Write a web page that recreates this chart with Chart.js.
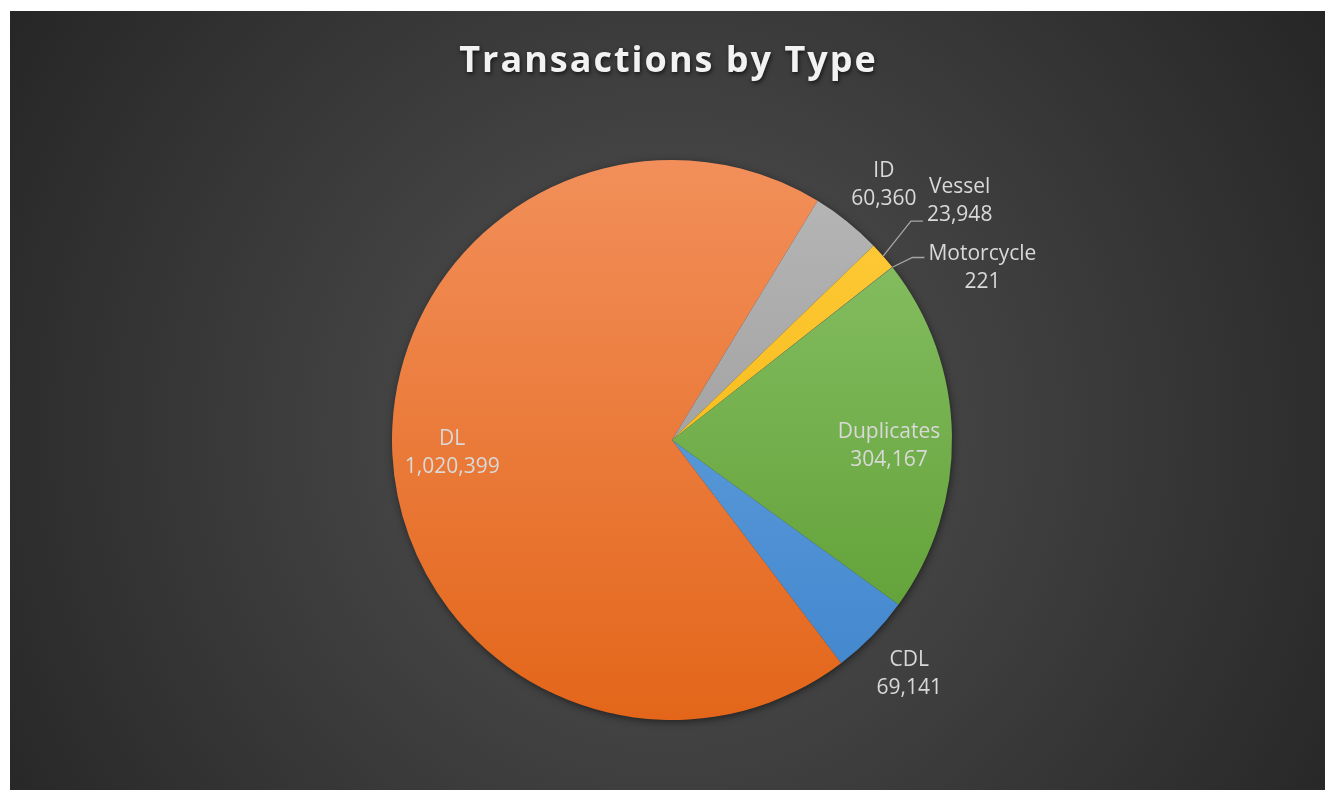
<!DOCTYPE html>
<html>
<head>
<meta charset="utf-8">
<script src="https://cdn.jsdelivr.net/npm/chart.js@4"></script>
<style>
  html, body { margin: 0; padding: 0; background: #fff; }
  #wrap {
    position: absolute; left: 10px; top: 11px; width: 1315px; height: 779px;
    background: radial-gradient(circle farthest-corner at 50% 54%, #535353 0%, #262626 100%);
  }
</style>
</head>
<body>
<div id="wrap"><canvas id="chart"></canvas></div>
<script>
var chartTitle = 'Transactions by Type';
var categories = ['CDL', 'DL', 'ID', 'Vessel', 'Motorcycle', 'Duplicates'];
var values = [69141, 1020399, 60360, 23948, 221, 304167];

// top / bottom gradient stops per slice
var sliceColors = [
  ['#6eaae2', '#3f84cc'],
  ['#f28f5a', '#e3661a'],
  ['#b7b7b7', '#909090'],
  ['#ffcc3e', '#f2b100'],
  ['#5a86d2', '#3763b4'],
  ['#8cc46a', '#5a9a2e']
];

// where each label sits: radius factor, angle nudge (deg), leader line
var labelLayout = [
  { r: 1.186, da: 0 },
  { r: 0.786, da: 0 },
  { r: 1.19, da: 0.8 },
  { r: 1.34, da: 1.1, leader: true, ly: 20 },
  { r: 1.27, da: 8.9, leader: true, ly: -11 },
  { r: 0.775, da: 2.2 }
];

function fmt(v) { return v.toLocaleString('en-US'); }

var piePlugin = {
  id: 'piePlugin',
  beforeDatasetsDraw: function(chart) {
    var el = chart.getDatasetMeta(0).data[0];
    var ctx = chart.ctx;
    ctx.save();
    ctx.shadowColor = 'rgba(0,0,0,0.6)';
    ctx.shadowBlur = 8;
    ctx.shadowOffsetX = 1;
    ctx.shadowOffsetY = 2;
    ctx.fillStyle = '#333';
    ctx.beginPath();
    ctx.arc(el.x, el.y, el.outerRadius - 1, 0, Math.PI * 2);
    ctx.fill();
    ctx.restore();
  },
  afterDatasetsDraw: function(chart) {
    var ctx = chart.ctx;
    var meta = chart.getDatasetMeta(0);
    ctx.save();
    ctx.font = '21px "Open Sans"';
    ctx.fillStyle = '#d9d9d9';
    ctx.textAlign = 'center';
    ctx.textBaseline = 'middle';
    meta.data.forEach(function(el, i) {
      var lay = labelLayout[i];
      var mid = (el.startAngle + el.endAngle) / 2;
      var a = mid + lay.da * Math.PI / 180;
      var cx = el.x + Math.cos(a) * el.outerRadius * lay.r;
      var cy = el.y + Math.sin(a) * el.outerRadius * lay.r + 2;
      var valText = fmt(values[i]);
      ctx.fillText(categories[i], cx, cy - 14);
      ctx.fillText(valText, cx, cy + 14);
      if (lay.leader) {
        var w = Math.max(ctx.measureText(categories[i]).width, ctx.measureText(valText).width);
        var ex = cx - w / 2 - 4, ey = cy + lay.ly;
        var sx = el.x + Math.cos(mid) * el.outerRadius;
        var sy = el.y + Math.sin(mid) * el.outerRadius;
        ctx.strokeStyle = '#a6a6a6';
        ctx.lineWidth = 1.3;
        ctx.beginPath();
        ctx.moveTo(sx, sy);
        ctx.lineTo(ex - 12, ey);
        ctx.lineTo(ex, ey);
        ctx.stroke();
      }
    });
    ctx.restore();
  },
  afterDraw: function(chart) {
    var ctx = chart.ctx;
    ctx.save();
    ctx.font = 'bold 36px "Open Sans"';
    ctx.letterSpacing = '2px';
    ctx.textAlign = 'center';
    ctx.textBaseline = 'middle';
    ctx.shadowColor = 'rgba(0,0,0,0.65)';
    ctx.shadowBlur = 4;
    ctx.shadowOffsetX = 1;
    ctx.shadowOffsetY = 2;
    ctx.fillStyle = '#f2f2f2';
    ctx.fillText(chartTitle, chart.width / 2 + 1, 51);
    ctx.restore();
  }
};

function sliceFill(c) {
  var area = c.chart.chartArea;
  var cols = sliceColors[c.dataIndex];
  if (!area) return cols[0];
  var g = c.chart.ctx.createLinearGradient(0, area.top, 0, area.bottom);
  g.addColorStop(0, cols[0]);
  g.addColorStop(1, cols[1]);
  return g;
}

var ctx = document.getElementById('chart').getContext('2d');
var chart = new Chart(ctx, {
  type: 'pie',
  data: {
    labels: categories,
    datasets: [{
      data: values,
      backgroundColor: sliceFill,
      borderWidth: 0
    }]
  },
  options: {
    responsive: true,
    maintainAspectRatio: false,
    animation: false,
    rotation: 126,
    layout: {
      padding: { left: 382, right: 373, top: 149, bottom: 70 }
    },
    plugins: {
      legend: { display: false },
      tooltip: { enabled: false },
      title: { display: false }
    }
  },
  plugins: [piePlugin]
});
</script>
</body>
</html>
